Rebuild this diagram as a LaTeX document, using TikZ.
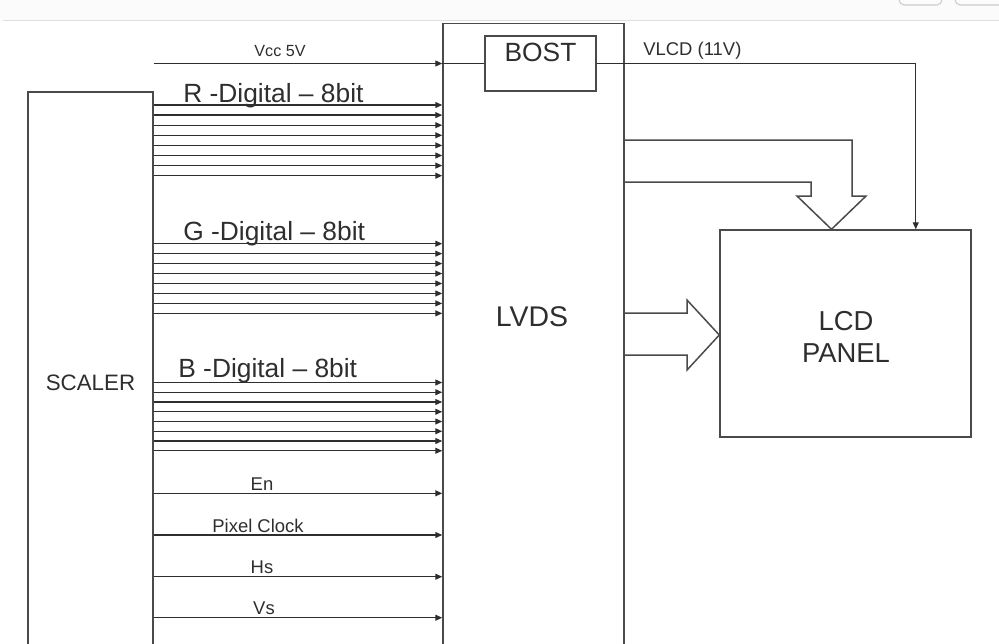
\documentclass[tikz,border=0pt]{standalone}
\usepackage{fontspec}
\setmainfont{Liberation Sans}
\usetikzlibrary{arrows.meta}
\definecolor{ink}{HTML}{2E2E2E}
\definecolor{edge}{HTML}{4A4A4A}
\tikzset{
  blk/.style={draw=edge, line width=0.85pt, inner sep=0pt},
  wire/.style={draw=ink, line width=0.75pt, -{Triangle[length=4pt,width=3.4pt]}},
  fat/.style={draw=edge, line width=0.85pt, line join=miter},
  small/.style={font=\fontsize{10.5}{12}\selectfont, text=ink, inner sep=0pt},
  big/.style={font=\fontsize{15}{17}\selectfont, text=ink, inner sep=0pt},
  title/.style={font=\fontsize{15.6}{17.8}\selectfont, text=ink, inner sep=0pt, align=center},
}

\begin{document}
\begin{tikzpicture}[x=0.02cm, y=-0.02cm]
\useasboundingbox (0,0) rectangle (999,643);
\clip (0,0) rectangle (999,643);
\fill[gray!3] (0,0) rectangle (999,20);
\draw[gray!25, line width=0.8pt] (3,20.5) -- (999,20.5);
\draw[gray!40, line width=0.6pt, rounded corners=3pt] (899,-10) -- (899,5) -- (942,5) -- (942,-10);
\draw[gray!40, line width=0.6pt, rounded corners=3pt] (955,-10) -- (955,5) -- (1010,5);

\node[blk, font=\fontsize{12.7}{15}\selectfont, text=ink, minimum width=2.5cm, minimum height=11.64cm] (scaler) at (90.5,383) {SCALER};
\node[blk, minimum width=3.62cm, minimum height=14cm, anchor=north] (lvds) at (533.5,23) {};
\node[title, font=\fontsize{16.2}{18}\selectfont] (lvdstext) at (532,317) {LVDS};
\node[blk, fill=white, minimum width=2.22cm, minimum height=1.1cm] (bost) at (540.5,63.5) {};
\node[title, font=\fontsize{15}{17}\selectfont] (bosttext) at (540.5,52.5) {BOST};
\node[blk, minimum width=5.02cm, minimum height=4.14cm] (lcd) at (845.5,333.5) {};
\node[title] (lcdtext) at (846,337) {LCD\\PANEL};

\coordinate (vcc) at (0,63.5);
\draw[wire] (scaler.east |- vcc) -- (lvds.west |- vcc);
\draw[draw=ink, line width=0.75pt] (lvds.west |- vcc) -- (bost.west);
\node[small, font=\fontsize{9.2}{11}\selectfont, anchor=base] (vcclbl) at (280,56) {Vcc 5V};
\draw[wire] (bost.east) -| ([xshift=-1.12cm]lcd.north east);
\node[small, anchor=base west] (vlcdlbl) at (643,55.7) {VLCD (11V)};

\node[big, anchor=base west] (rlbl) at (183,102) {R -Digital – 8bit};
\foreach \i in {0,...,7} {
  \coordinate (r\i) at (0,105+10.1*\i);
  \draw[wire] (scaler.east |- r\i) -- (lvds.west |- r\i);
}
\node[big, anchor=base west] (glbl) at (183,240) {G -Digital – 8bit};
\foreach \i in {0,...,7} {
  \coordinate (g\i) at (0,243.7+9.95*\i);
  \draw[wire] (scaler.east |- g\i) -- (lvds.west |- g\i);
}
\node[big, anchor=base west] (blbl) at (178,377) {B -Digital – 8bit};
\foreach \i in {0,...,7} {
  \coordinate (b\i) at (0,382.5+9.75*\i);
  \draw[wire] (scaler.east |- b\i) -- (lvds.west |- b\i);
}

\foreach \y/\t/\n/\x in {493.3/En/en/262, 535/Pixel Clock/pclk/258, 576.7/Hs/hs/262, 617.7/Vs/vs/264} {
  \coordinate (\n) at (0,\y);
  \draw[wire] (scaler.east |- \n) -- (lvds.west |- \n);
  \node[small, anchor=base] (\n lbl) at (\x,\y-3) {\t};
}

\draw[fat] (lvds.east |- 0,140) -- (852,140) -- (852,196) -- (866,196) -- (lcd.north -| 831.5,0) -- (797,196) -- (811,196) -- (811,182) -- (lvds.east |- 0,182);
\draw[fat] (lvds.east |- 0,313) -- (687,313) -- (687,300) -- (lcd.west |- 0,335) -- (687,370) -- (687,355) -- (lvds.east |- 0,355);
\end{tikzpicture}
\end{document}
